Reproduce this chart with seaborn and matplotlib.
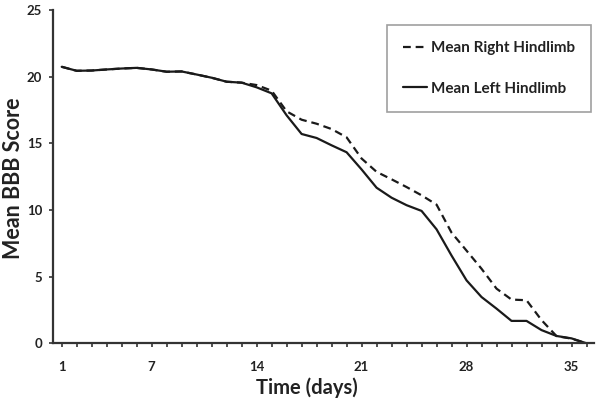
import matplotlib
matplotlib.use("Agg")
import matplotlib.pyplot as plt
import seaborn as sns
import pandas as pd
import numpy as np
from matplotlib.lines import Line2D

days = list(range(1, 37))
right_hindlimb = [20.74, 20.44, 20.46, 20.54, 20.61, 20.66, 20.54, 20.37, 20.39, 20.16,
                  19.92, 19.62, 19.55, 19.37, 18.95, 17.4, 16.77, 16.47, 16.07, 15.45,
                  13.86, 12.86, 12.3, 11.72, 11.1, 10.4, 8.3, 6.95, 5.59, 4.1,
                  3.28, 3.23, 1.74, 0.54, 0.35, 0.0]
left_hindlimb = [20.74, 20.44, 20.46, 20.54, 20.61, 20.66, 20.54, 20.37, 20.39, 20.16,
                 19.92, 19.62, 19.55, 19.2, 18.75, 17.1, 15.7, 15.4, 14.85, 14.33,
                 13.04, 11.67, 10.92, 10.36, 9.93, 8.55, 6.58, 4.72, 3.47, 2.6,
                 1.68, 1.68, 0.99, 0.55, 0.37, 0.0]
series_names = ["Mean Right Hindlimb", "Mean Left Hindlimb"]
x_tick_labels = [1, 7, 14, 21, 28, 35]
y_ticks = [0, 5, 10, 15, 20, 25]

df = pd.DataFrame({
    "day": days * 2,
    "score": right_hindlimb + left_hindlimb,
    "series": [series_names[0]] * len(days) + [series_names[1]] * len(days),
})

sns.set_theme(style="white")
plt.rcParams["font.family"] = ["Lato", "DejaVu Sans"]
plt.rcParams["font.weight"] = "bold"

fig = plt.figure(figsize=(6.01, 4.01), dpi=100)
W, H = 601, 401
x0, x1, y0, y1 = 53.3, 594, 10, 343.3
ax = fig.add_axes([x0 / W, (H - y1) / H, (x1 - x0) / W, (y1 - y0) / H])

sns.lineplot(data=df, x="day", y="score", style="series", hue="series",
             palette={series_names[0]: "#1a1a1a", series_names[1]: "#1a1a1a"},
             dashes={series_names[0]: (3.5, 2.2), series_names[1]: ""},
             linewidth=1.6, ax=ax, legend=False)

ax.set_xlim(0.44, 36.5)
ax.set_ylim(0, 25)
ax.set_xticks(x_tick_labels)
ax.set_xticklabels([str(v) for v in x_tick_labels])
ax.set_xticks(days, minor=True)
ax.set_yticks(y_ticks)
ax.set_yticklabels([str(v) for v in y_ticks])

for s in ["top", "right"]:
    ax.spines[s].set_visible(False)
for s in ["left", "bottom"]:
    ax.spines[s].set_color("#333333")
    ax.spines[s].set_linewidth(1.6)

ax.tick_params(axis="x", which="both", direction="out", length=3, width=1.2,
               color="#333333", bottom=True, pad=10, labelsize=9.5, labelcolor="#222222")
ax.tick_params(axis="y", which="major", direction="out", length=3, width=1.2,
               color="#333333", left=True, pad=5, labelsize=9.5, labelcolor="#222222")
for lab in ax.get_xticklabels() + ax.get_yticklabels():
    lab.set_fontweight("bold")

ax.set_xlabel("Time (days)", fontsize=14.5, fontweight="bold", color="#222222")
ax.set_ylabel("Mean BBB Score", fontsize=15.5, fontweight="bold", color="#222222")
ax.xaxis.set_label_coords((307 - x0) / (x1 - x0), -(388 - y1) / (y1 - y0), transform=ax.transAxes)
ax.xaxis.label.set_va("center")
ax.yaxis.set_label_coords(-(x0 - 14) / (x1 - x0), (y1 - 178) / (y1 - y0), transform=ax.transAxes)
ax.yaxis.label.set_va("center")

handles = [Line2D([], [], color="#1a1a1a", lw=1.6, dashes=(3.5, 2.2)),
           Line2D([], [], color="#1a1a1a", lw=1.6)]
leg = ax.legend(handles, series_names, loc="upper right",
                bbox_to_anchor=((591 - x0) / (x1 - x0), (y1 - 25) / (y1 - y0)),
                borderaxespad=0, frameon=True, fancybox=False,
                prop={"family": "Lato", "weight": "bold", "size": 11},
                handlelength=1.55, handletextpad=0.25, labelspacing=1.75,
                borderpad=1.05)
leg.get_frame().set_edgecolor("#888888")
leg.get_frame().set_linewidth(1.2)
for t in leg.get_texts():
    t.set_color("#222222")

fig.savefig("out.png", dpi=100)
